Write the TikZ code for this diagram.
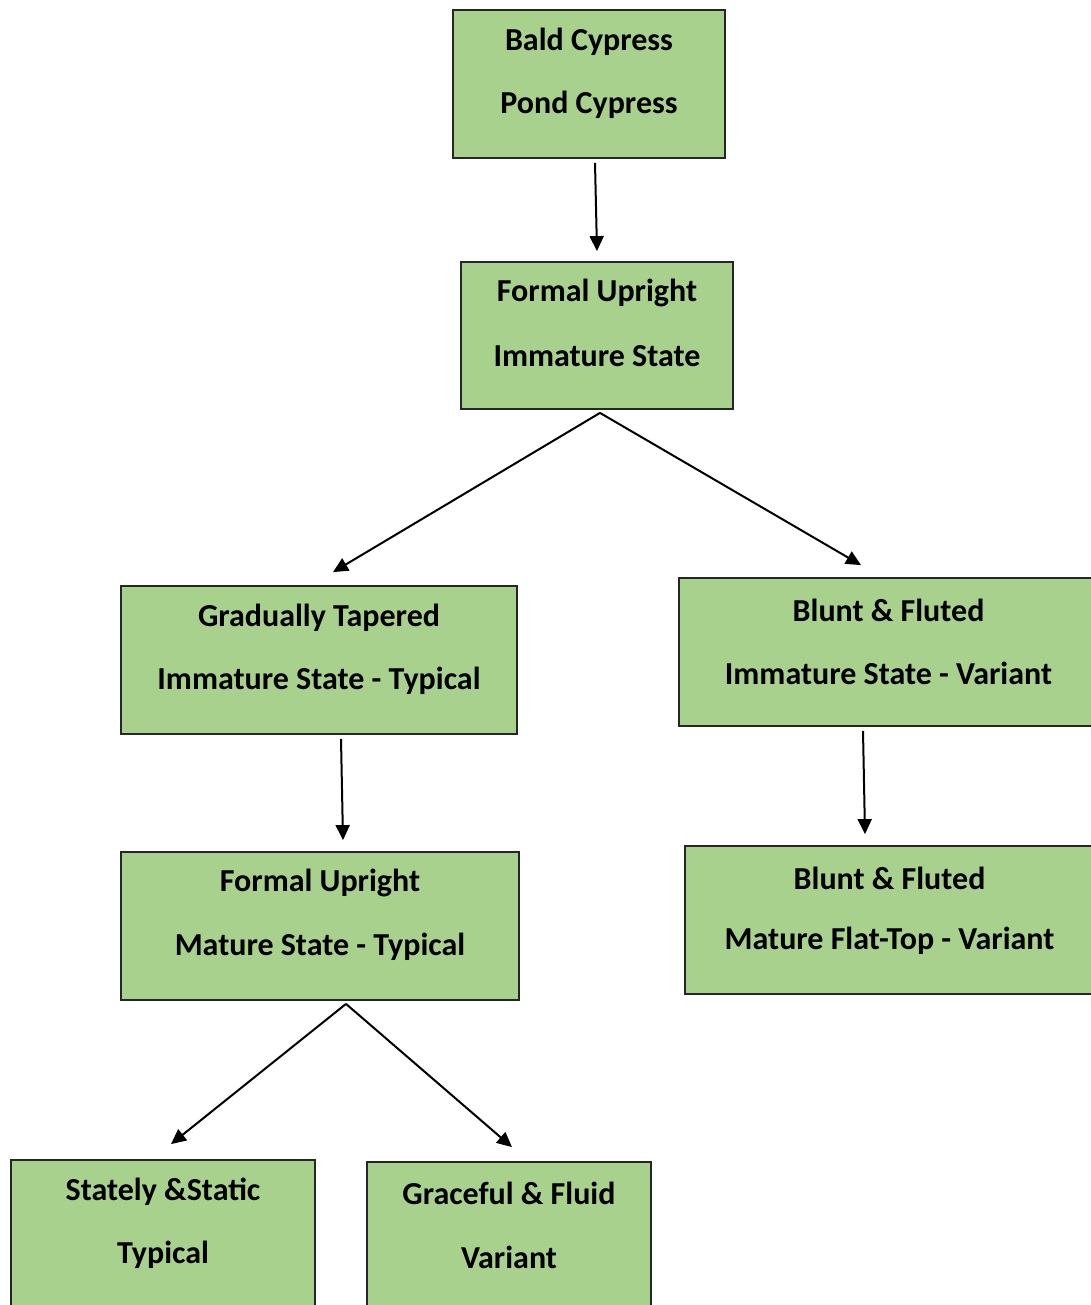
\documentclass[tikz,border=0pt]{standalone}
\usepackage{fontspec}
\setmainfont{Carlito}
\usetikzlibrary{arrows.meta,calc}
\definecolor{boxgreen}{HTML}{A9D18E}
\begin{document}
\begin{tikzpicture}[x=1pt,y=-1pt,
  box/.style={draw=black!85,line width=1.8pt,fill=boxgreen,rectangle,inner sep=0pt},
  txt/.style={font=\fontsize{32}{36}\selectfont\bfseries,inner sep=0pt,anchor=center},
  arr/.style={line width=2pt,-{Triangle[length=15pt,width=14pt]}}]
\useasboundingbox (0,0) rectangle (1091,1305);
\clip (0,0) rectangle (1091,1305);
\node[box,minimum width=272pt,minimum height=148pt] (b1) at (589,84) {};
\node[box,minimum width=272pt,minimum height=147pt] (b2) at (597,335.5) {};
\node[box,minimum width=396pt,minimum height=148pt] (b3) at (319,660) {};
\node[box,minimum width=419pt,minimum height=148pt] (b4) at (888.5,652) {};
\node[box,minimum width=409pt,minimum height=148pt] (b5) at (889.5,920) {};
\node[box,minimum width=398pt,minimum height=148pt] (b6) at (320,926) {};
\node[box,minimum width=304pt,minimum height=148pt] (b7) at (163,1234) {};
\node[box,minimum width=284pt,minimum height=148pt] (b8) at (509,1236) {};
% texts
\node[txt] (t1a) at ($(b1.north)+(0,33)$) {Bald Cypress};
\node[txt] (t1b) at ($(b1.north)+(0,96)$) {Pond Cypress};
\node[txt] (t2a) at ($(b2.north)+(0,32)$) {Formal Upright};
\node[txt] (t2b) at ($(b2.north)+(0,95)$) {Immature State};
\node[txt] (t3a) at ($(b3.north)+(0,33)$) {Gradually Tapered};
\node[txt] (t3b) at ($(b3.north)+(0,96)$) {Immature State - Typical};
\node[txt] (t4a) at ($(b4.north)+(0,33)$) {Blunt \& Fluted};
\node[txt] (t4b) at ($(b4.north)+(0,96)$) {Immature State - Variant};
\node[txt] (t5a) at ($(b5.north)+(0,33)$) {Blunt \& Fluted};
\node[txt] (t5b) at ($(b5.north)+(0,96)$) {Mature Flat-Top - Variant};
\node[txt] (t6a) at ($(b6.north)+(0,32)$) {Formal Upright};
\node[txt] (t6b) at ($(b6.north)+(0,96)$) {Mature State - Typical};
\node[txt] (t7a) at ($(b7.north)+(0,33)$) {Stately \&Static};
\node[txt] (t7b) at ($(b7.north)+(0,96)$) {Typical};
\node[txt] (t8a) at ($(b8.north)+(0,32)$) {Graceful \& Fluid};
\node[txt] (t8b) at ($(b8.north)+(0,96)$) {Variant};
% arrows
\draw[arr] ([shift={(6,4)}]b1.south) -- ([shift={(0,-10)}]b2.north);
\draw[arr] ([shift={(3,3)}]b2.south) -- ([shift={(14,-13)}]b3.north);
\draw[arr] ([shift={(3,3)}]b2.south) -- ([shift={(-27.5,-12)}]b4.north);
\draw[arr] ([shift={(22,4)}]b3.south) -- ([shift={(23,-11)}]b6.north);
\draw[arr] ([shift={(-25.5,4)}]b4.south) -- ([shift={(-24.5,-11)}]b5.north);
\draw[arr] ([shift={(26,3)}]b6.south) -- ([shift={(8,-15)}]b7.north);
\draw[arr] ([shift={(26,3)}]b6.south) -- ([shift={(3,-14)}]b8.north);
\end{tikzpicture}
\end{document}
